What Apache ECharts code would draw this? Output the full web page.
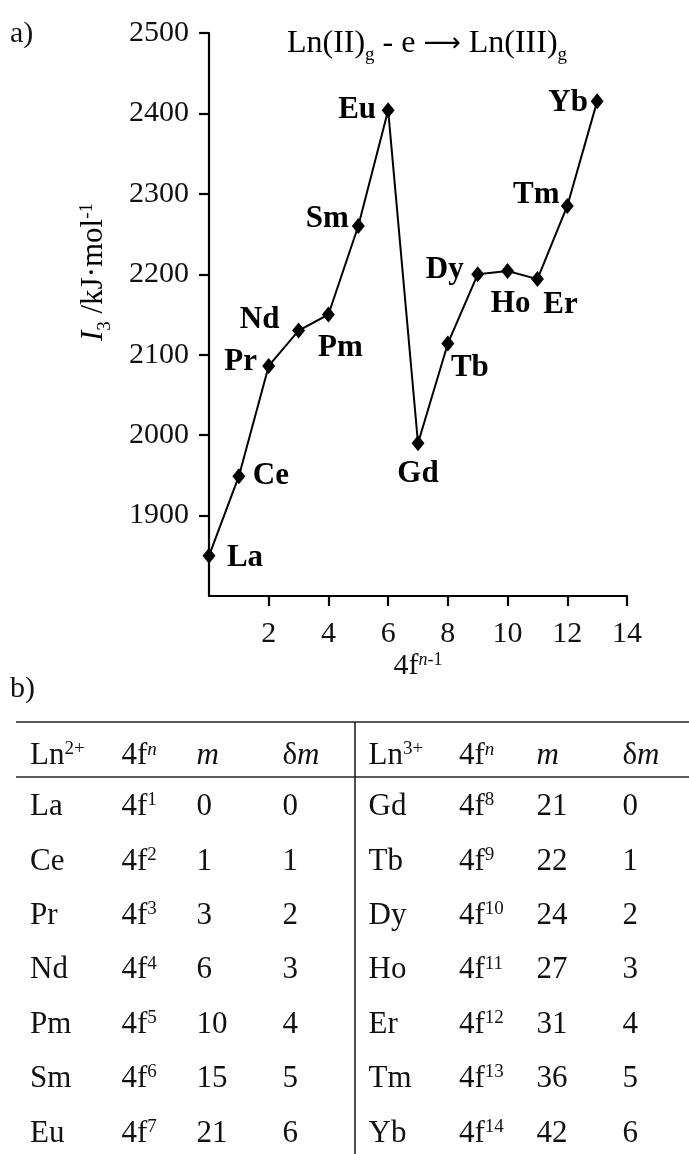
<!DOCTYPE html>
<html><head><meta charset="utf-8">
<script src="https://cdn.jsdelivr.net/npm/echarts@6/dist/echarts.min.js"></script>
<style>html,body{margin:0;padding:0;background:#fff}#c{width:689px;height:1154px}</style>
</head><body><div id="c"></div>
<script>
// ---- chart data (panel a) ----
const elements = ['La','Ce','Pr','Nd','Pm','Sm','Eu','Gd','Tb','Dy','Ho','Er','Tm','Yb'];
const fConfig = [0,1,2,3,4,5,6,7,8,9,10,11,12,13];          // 4f^(n-1)
const ionizationEnergy = [1850,1949,2086,2130,2150,2260,2404,1990,2114,2200,2204,2194,2285,2415]; // I3 / kJ mol-1
const xTickRange = [0, 14, 2];
const yTickRange = [1800, 2500, 100];

// ---- table data (panel b) ----
const ln2Ions = ['La','Ce','Pr','Nd','Pm','Sm','Eu'];
const ln2N = ['1','2','3','4','5','6','7'];
const ln2M = [0,1,3,6,10,15,21];
const ln2dM = [0,1,2,3,4,5,6];
const ln3Ions = ['Gd','Tb','Dy','Ho','Er','Tm','Yb'];
const ln3N = ['8','9','10','11','12','13','14'];
const ln3M = [21,22,24,27,31,36,42];
const ln3dM = [0,1,2,3,4,5,6];

// ---- layout (not data) ----
const labelOffset = {La:[36,2], Ce:[32,0], Pr:[-28,-4], Nd:[-39,-11], Pm:[12,33], Sm:[-31,-7], Eu:[-31,0],
  Gd:[0,31], Tb:[22,25], Dy:[-33,-4], Ho:[3,33], Er:[23,26], Tm:[-31,-11], Yb:[-29,2]};

const FONT = 'Liberation Serif';
const INK = '#111';

const chart = echarts.init(document.getElementById('c'), null, {renderer:'canvas'});

const seriesData = elements.map((e,i)=>({
  name: e, value: [fConfig[i], ionizationEnergy[i]],
  label: {offset: labelOffset[e]}
}));

function makeRich(fs){
  const s = Math.round(fs*0.6);
  return {
    m:{fontFamily:FONT,fontSize:fs,color:INK,lineHeight:fs+1},
    i:{fontFamily:FONT,fontSize:fs,color:INK,fontStyle:'italic',lineHeight:fs+1},
    arr:{fontFamily:'DejaVu Sans',fontSize:Math.round(fs*0.8),color:INK,lineHeight:fs+1},
    sup:{fontFamily:FONT,fontSize:s,color:INK,lineHeight:s,verticalAlign:'top'},
    supi:{fontFamily:FONT,fontSize:s,color:INK,fontStyle:'italic',lineHeight:s,verticalAlign:'top'},
    sub:{fontFamily:FONT,fontSize:s,color:INK,lineHeight:s,verticalAlign:'top',padding:[Math.round(fs*0.57),0,0,0]}
  };
}
const rich30 = makeRich(30), rich31 = makeRich(31), rich32 = makeRich(32);

const graphics = [];
function txt(x,y,text,rich){
  graphics.push({type:'text',x:x,y:y,style:{text:text,rich:rich||rich31,fontFamily:FONT,fontSize:31,fill:INK,align:'left',verticalAlign:'middle'}});
}
function line(x1,y1,x2,y2){
  graphics.push({type:'line',shape:{x1,y1,x2,y2},style:{stroke:'#222',lineWidth:1.6}});
}
// panel labels
txt(10,34,'{m|a)}',rich30);
txt(10,689,'{m|b)}',rich30);
// title
graphics.push({type:'text',x:427,y:44,style:{text:'{m|Ln(II)}{sub|g}{m| - e }{arr|⟶}{m| Ln(III)}{sub|g}',rich:rich32,align:'center',verticalAlign:'middle'}});
// y axis title (rotated)
graphics.push({type:'text',x:94,y:272,rotation:Math.PI/2,style:{text:'{i|I}{sub|3}{m| /kJ·mol}{sup|-1}',rich:rich31,align:'center',verticalAlign:'middle'}});

// table
const tTop=722, tHead=777, tBottom=1154, tLeft=16, tRight=689, tDiv=355;
line(tLeft,tTop,tRight,tTop);
line(tLeft,tHead,tRight,tHead);
line(tDiv,tTop,tDiv,tBottom);
const colL=[30,121.5,196.5,282.5], colR=[368.5,459,536.5,622.5];
const headY=756, row0=807, rowStep=54.4;
txt(colL[0],headY,'{m|Ln}{sup|2+}'); txt(colL[1],headY,'{m|4f}{supi|n}'); txt(colL[2],headY,'{i|m}'); txt(colL[3],headY,'{m|δ}{i|m}');
txt(colR[0],headY,'{m|Ln}{sup|3+}'); txt(colR[1],headY,'{m|4f}{supi|n}'); txt(colR[2],headY,'{i|m}'); txt(colR[3],headY,'{m|δ}{i|m}');
for(let r=0;r<ln2Ions.length;r++){
  const y=row0+r*rowStep;
  txt(colL[0],y,'{m|'+ln2Ions[r]+'}'); txt(colL[1],y,'{m|4f}{sup|'+ln2N[r]+'}'); txt(colL[2],y,'{m|'+ln2M[r]+'}'); txt(colL[3],y,'{m|'+ln2dM[r]+'}');
  txt(colR[0],y,'{m|'+ln3Ions[r]+'}'); txt(colR[1],y,'{m|4f}{sup|'+ln3N[r]+'}'); txt(colR[2],y,'{m|'+ln3M[r]+'}'); txt(colR[3],y,'{m|'+ln3dM[r]+'}');
}

const axisCommon = {
  axisLine:{show:true,onZero:false,lineStyle:{color:'#000',width:2.2}},
  axisTick:{show:true,inside:false,length:10,lineStyle:{color:'#000',width:2.2}},
  splitLine:{show:false},
  axisLabel:{fontFamily:FONT,fontSize:30,color:INK,showMinLabel:false,formatter:v=>String(v)}
};

chart.setOption({
  animation:false,
  backgroundColor:'#fff',
  grid:{left:209,right:62,top:33,bottom:558,containLabel:false,outerBoundsMode:'none'},
  xAxis:Object.assign({},axisCommon,{
    type:'value',min:xTickRange[0],max:xTickRange[1],interval:xTickRange[2],
    axisLabel:Object.assign({},axisCommon.axisLabel,{margin:23}),
    name:'{m|4f}{supi|n}{sup|-1}',nameLocation:'middle',nameGap:55,
    nameTextStyle:{rich:rich30}
  }),
  yAxis:Object.assign({},axisCommon,{
    type:'value',min:yTickRange[0],max:yTickRange[1],interval:yTickRange[2],
    axisLabel:Object.assign({},axisCommon.axisLabel,{margin:20})
  }),
  series:[{
    type:'line',data:seriesData,symbol:'diamond',symbolSize:[13,16],
    itemStyle:{color:'#000'},lineStyle:{color:'#000',width:2},
    label:{show:true,position:'inside',formatter:'{b}',fontFamily:FONT,fontWeight:'bold',fontSize:31,color:'#000',textBorderWidth:0},
    emphasis:{disabled:true},z:3
  }],
  graphic:graphics
});
</script></body></html>
